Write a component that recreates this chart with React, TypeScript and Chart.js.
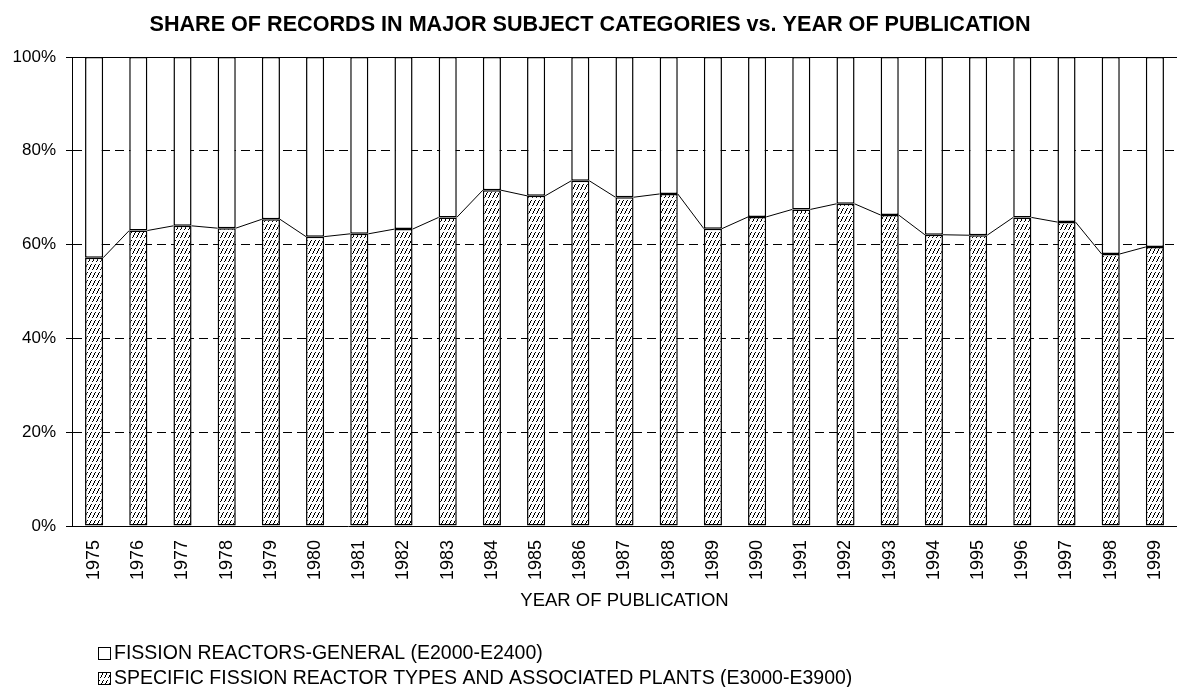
import React, { useEffect, useRef } from 'react';
import { Chart, registerables } from 'chart.js';

Chart.register(...registerables);

const years = ['1975', '1976', '1977', '1978', '1979', '1980', '1981', '1982', '1983', '1984', '1985', '1986', '1987', '1988', '1989', '1990', '1991', '1992', '1993', '1994', '1995', '1996', '1997', '1998', '1999'];
const specificShare = [57.2, 63.0, 64.0, 63.5, 65.4, 61.7, 62.3, 63.3, 65.8, 71.6, 70.4, 73.6, 70.1, 70.8, 63.4, 65.9, 67.5, 68.7, 66.3, 62.1, 62.0, 65.8, 64.8, 58.0, 59.5];
const generalShare = [42.8, 37.0, 36.0, 36.5, 34.6, 38.3, 37.7, 36.7, 34.2, 28.4, 29.6, 26.4, 29.9, 29.2, 36.6, 34.1, 32.5, 31.3, 33.7, 37.9, 38.0, 34.2, 35.2, 42.0, 40.5];
const yTickValues = [0, 20, 40, 60, 80, 100];
const chartTitle = 'SHARE OF RECORDS IN MAJOR SUBJECT CATEGORIES vs. YEAR OF PUBLICATION';
const xAxisTitle = 'YEAR OF PUBLICATION';
const legendLabels = ['FISSION REACTORS-GENERAL (E2000-E2400)', 'SPECIFIC FISSION REACTOR TYPES AND ASSOCIATED PLANTS (E3000-E3900)'];

const FONT = "'Liberation Sans', Arial, Helvetica, sans-serif";

function makeHatch(): CanvasPattern | string {
  const c = document.createElement('canvas');
  c.width = 4;
  c.height = 8;
  const g = c.getContext('2d');
  if (!g) return '#ccc';
  g.fillStyle = '#ffffff';
  g.fillRect(0, 0, 4, 8);
  g.fillStyle = '#000000';
  const pts = [[3, 0], [2, 1], [2, 2], [1, 3], [1, 4], [0, 5]];
  for (const [dx, dy] of pts) g.fillRect(dx, dy, 1, 1);
  const p = g.createPattern(c, 'repeat');
  return p || '#ccc';
}

export default function App() {
  const ref = useRef<HTMLCanvasElement | null>(null);

  useEffect(() => {
    if (!ref.current) return;
    const hatch = makeHatch();

    const overlay = {
      id: 'overlay',
      afterDatasetsDraw(chart: any) {
        const ctx = chart.ctx as CanvasRenderingContext2D;
        const area = chart.chartArea;
        const meta = chart.getDatasetMeta(0);
        ctx.save();
        ctx.strokeStyle = '#000';
        ctx.lineWidth = 1;
        ctx.setLineDash([]);
        ctx.beginPath();
        for (let i = 0; i < meta.data.length - 1; i++) {
          const a: any = meta.data[i];
          const b: any = meta.data[i + 1];
          ctx.moveTo(a.x + a.width / 2, a.y);
          ctx.lineTo(b.x - b.width / 2, b.y);
        }
        ctx.stroke();
        const yTop = Math.round(area.top) + 0.5;
        ctx.beginPath();
        ctx.moveTo(area.left, yTop);
        ctx.lineTo(chart.width, yTop);
        ctx.stroke();
        ctx.restore();
      },
      afterDraw(chart: any) {
        const ctx = chart.ctx as CanvasRenderingContext2D;
        ctx.save();
        ctx.fillStyle = '#000';
        ctx.font = `bold 21.6px ${FONT}`;
        ctx.textAlign = 'center';
        ctx.textBaseline = 'alphabetic';
        ctx.fillText(chartTitle, 590, 31);

        ctx.font = `19.5px ${FONT}`;
        ctx.textAlign = 'left';
        ctx.textBaseline = 'middle';
        const rows = [653, 678];
        rows.forEach((cy, i) => {
          const bx = 98.5;
          const by = cy - 6 + 0.5;
          ctx.fillStyle = i === 0 ? '#fff' : (hatch as any);
          ctx.fillRect(bx, by, 12, 12);
          ctx.strokeStyle = '#000';
          ctx.lineWidth = 1;
          ctx.strokeRect(bx, by, 12, 12);
          ctx.fillStyle = '#000';
          ctx.fillText(legendLabels[i], 114, cy + 1);
        });
        ctx.restore();
      },
    };

    const chart = new Chart(ref.current, {
      type: 'bar',
      data: {
        labels: years,
        datasets: [
          {
            label: legendLabels[1],
            data: specificShare,
            backgroundColor: hatch as any,
            borderColor: '#000',
            borderWidth: 1.5,
            borderSkipped: false,
            barPercentage: 0.41,
            categoryPercentage: 1,
          },
          {
            label: legendLabels[0],
            data: generalShare,
            backgroundColor: '#ffffff',
            borderColor: '#000',
            borderWidth: 1.5,
            borderSkipped: false,
            barPercentage: 0.41,
            categoryPercentage: 1,
          },
        ],
      },
      options: {
        responsive: false,
        animation: false,
        devicePixelRatio: 1,
        layout: { padding: { top: 57, right: 0, bottom: 0, left: 0 } },
        plugins: {
          legend: { display: false },
          title: { display: false },
          tooltip: { enabled: false },
        },
        scales: {
          x: {
            stacked: true,
            grid: { display: true, drawOnChartArea: false, drawTicks: false },
            border: { display: true, color: '#000', width: 1 },
            ticks: {
              autoSkip: false,
              minRotation: 90,
              maxRotation: 90,
              padding: 14,
              color: '#000',
              font: { family: FONT, size: 18 },
            },
            title: {
              display: true,
              text: xAxisTitle,
              color: '#000',
              font: { family: FONT, size: 18.5 },
              padding: { top: 0, bottom: 75 },
            },
            afterFit: (scale: any) => {
              scale.height = 161;
              scale.paddingLeft = 0;
              scale.paddingRight = 0;
            },
          },
          y: {
            stacked: true,
            min: 0,
            max: 100,
            afterBuildTicks: (scale: any) => {
              scale.ticks = yTickValues.map((v) => ({ value: v }));
            },
            grid: {
              color: '#000',
              lineWidth: 1,
              tickLength: 6,
              drawTicks: true,
            },
            border: {
              display: true,
              color: '#000',
              width: 1,
              dash: (ctx: any) => (ctx.tick && ctx.tick.value === 100 ? [] : [9, 5]),
            } as any,
            ticks: {
              padding: 10,
              color: '#000',
              font: { family: FONT, size: 17 },
              callback: (v: any) => `${v}%`,
            },
            afterFit: (scale: any) => {
              scale.width = 72;
            },
          },
        },
      },
      plugins: [overlay],
    });
    return () => chart.destroy();
  }, []);

  return (
    <div style={{ position: 'absolute', left: 0, top: 0, width: 1177, height: 687, background: '#fff' }}>
      <canvas ref={ref} width={1177} height={687} style={{ width: 1177, height: 687, display: 'block' }} />
    </div>
  );
}
